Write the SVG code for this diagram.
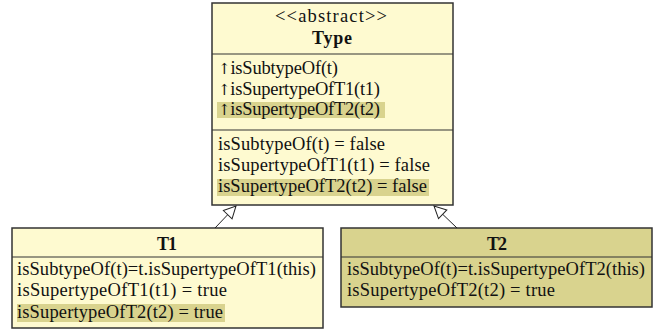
<svg xmlns="http://www.w3.org/2000/svg" width="655" height="330" viewBox="0 0 655 330">
  <style>
    .box { fill: #fefad0; stroke: #333; stroke-width: 1.5; }
    .box2 { fill: #d9d38e; stroke: #333; stroke-width: 1.5; }
    .div { stroke: #333; stroke-width: 1.2; }
    .hl { fill: #d9d38e; }
    text { font-family: "Liberation Serif", "DejaVu Serif", serif; font-size: 18.5px; fill: #111; }
    .title { font-weight: bold; text-anchor: middle; font-size: 18px; }
    .st { text-anchor: middle; }
    .up { font-family: "DejaVu Serif", serif; font-size: 15px; fill: #111; }
    .edge { stroke: #222; stroke-width: 1; fill: none; marker-end: url(#gen); }
  </style>
  <defs>
    <marker id="gen" viewBox="0 0 14 14" refX="13" refY="7" markerWidth="14" markerHeight="14" markerUnits="userSpaceOnUse" orient="auto">
      <path d="M1,1 L13,7 L1,13 Z" fill="#fff" stroke="#222" stroke-width="1"/>
    </marker>
  </defs>

  <g id="Type">
    <rect class="box" x="212" y="3" width="241" height="202"/>
    <line class="div" x1="212" y1="54" x2="453" y2="54"/>
    <line class="div" x1="212" y1="130" x2="453" y2="130"/>
    <text class="st" x="331" y="22" textLength="112">&lt;&lt;abstract&gt;&gt;</text>
    <text class="title" x="332" y="44" textLength="40">Type</text>
    <text x="218" y="74" textLength="120"><tspan class="up">↑</tspan>isSubtypeOf(t)</text>
    <text x="218" y="95" textLength="162"><tspan class="up">↑</tspan>isSupertypeOfT1(t1)</text>
    <rect class="hl" x="217" y="102" width="168" height="16"/>
    <text x="218" y="115" textLength="162"><tspan class="up">↑</tspan>isSupertypeOfT2(t2)</text>
    <text x="218" y="150" textLength="167">isSubtypeOf(t) = false</text>
    <text x="218" y="171" textLength="212">isSupertypeOfT1(t1) = false</text>
    <rect class="hl" x="217" y="179" width="212" height="17"/>
    <text x="218" y="192" textLength="209">isSupertypeOfT2(t2) = false</text>
  </g>

  <g id="T1">
    <rect class="box" x="12" y="228" width="311" height="100"/>
    <line class="div" x1="12" y1="257" x2="323" y2="257"/>
    <text class="title" x="167" y="250" textLength="20">T1</text>
    <text x="17" y="275" textLength="299">isSubtypeOf(t)=t.isSupertypeOfT1(this)</text>
    <text x="17" y="296" textLength="210">isSupertypeOfT1(t1) = true</text>
    <rect class="hl" x="17" y="304" width="208" height="18"/>
    <text x="17" y="318" textLength="206">isSupertypeOfT2(t2) = true</text>
  </g>

  <g id="T2">
    <rect class="box2" x="341" y="228" width="311" height="79"/>
    <line class="div" x1="341" y1="257" x2="652" y2="257"/>
    <text class="title" x="497" y="250" textLength="20">T2</text>
    <text x="347" y="275" textLength="298">isSubtypeOf(t)=t.isSupertypeOfT2(this)</text>
    <text x="347" y="296" textLength="208">isSupertypeOfT2(t2) = true</text>
  </g>

  <g id="connectors">
    <line class="edge" x1="215" y1="228" x2="236" y2="206"/>
    <line class="edge" x1="457" y1="228" x2="434" y2="206"/>
  </g>
</svg>
